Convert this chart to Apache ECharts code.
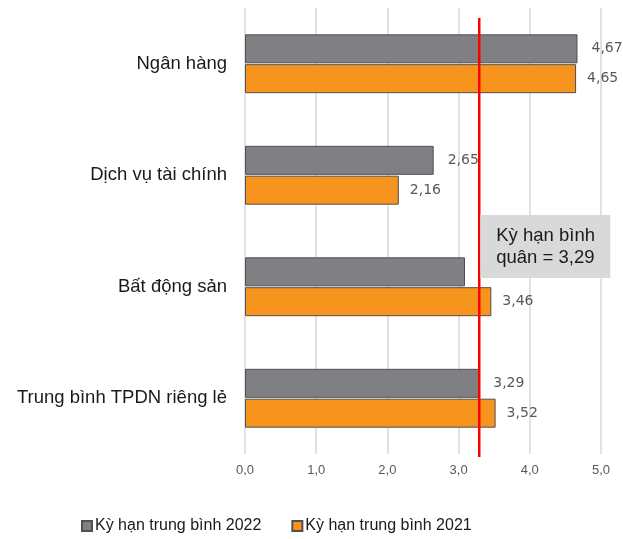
<!DOCTYPE html>
<html>
<head>
<meta charset="utf-8">
<script src="https://cdn.jsdelivr.net/npm/echarts@6/dist/echarts.min.js"></script>
<style>
  html, body { margin: 0; padding: 0; background: #fff; }
  #chart { width: 623px; height: 539px; }
</style>
</head>
<body>
<div id="chart"></div>
<script>
// Kỳ hạn trung bình theo ngành (năm)
const categories = ['Ngân hàng', 'Dịch vụ tài chính', 'Bất động sản', 'Trung bình TPDN riêng lẻ'];
const values2022 = [4.67, 2.65, 3.09, 3.29];
const values2021 = [4.65, 2.16, 3.46, 3.52];
const averageTerm = 3.29;
const seriesNames = ['Kỳ hạn trung bình 2022', 'Kỳ hạn trung bình 2021'];
const noteLines = ['Kỳ hạn bình', 'quân = 3,29'];

const fmt = v => v.toFixed(2).replace('.', ',');
const fmtAxis = v => v.toFixed(1).replace('.', ',');

const chart = echarts.init(document.getElementById('chart'));

const labelStyle = dist => ({
  show: true,
  position: 'right',
  distance: dist,
  color: '#595959',
  fontSize: 14,
  fontFamily: 'DejaVu Sans, Verdana, sans-serif',
  formatter: p => fmt(p.value)
});

chart.setOption({
  animation: false,
  grid: { left: 245, right: 22, top: 8, bottom: 85 },
  legend: {
    bottom: 0,
    left: 76,
    itemGap: 30,
    itemWidth: 10,
    itemHeight: 10,
    icon: 'rect',
    textStyle: { fontSize: 16, color: '#1a1a1a', fontFamily: 'Liberation Sans, Arial, sans-serif', padding: [0, 0, 0, -2] },
    data: seriesNames
  },
  xAxis: {
    type: 'value',
    min: 0,
    max: 5,
    interval: 1,
    axisLine: { show: false },
    axisTick: { show: false },
    splitLine: { show: true, lineStyle: { color: '#d9d9d9', width: 1.5 } },
    axisLabel: {
      color: '#595959',
      fontSize: 13,
      margin: 10,
      fontFamily: 'Liberation Sans, Arial, sans-serif',
      formatter: fmtAxis
    }
  },
  yAxis: {
    type: 'category',
    inverse: true,
    data: categories,
    axisLine: { show: false },
    axisTick: { show: false },
    axisLabel: {
      color: '#1a1a1a',
      fontSize: 18.5,
      margin: 18,
      fontFamily: 'Liberation Sans, Arial, sans-serif'
    }
  },
  series: [
    {
      name: seriesNames[0],
      type: 'bar',
      data: values2022,
      barWidth: 29,
      barGap: '3%',
      itemStyle: { color: '#7f8083', borderColor: '#505050', borderWidth: 1 },
      label: labelStyle(14)
    },
    {
      name: seriesNames[1],
      type: 'bar',
      data: values2021,
      barWidth: 29,
      barGap: '3%',
      itemStyle: { color: '#f7941d', borderColor: '#505050', borderWidth: 1 },
      label: labelStyle(11)
    }
  ]
});

// Average-term reference line and its note box
const lineX = chart.convertToPixel({ xAxisIndex: 0 }, averageTerm);
const gridTop = 8;
const gridBottom = 539 - 85;
chart.setOption({
  graphic: [
    {
      type: 'line',
      z: 100,
      shape: { x1: lineX, y1: gridTop + 10, x2: lineX, y2: gridBottom + 3 },
      style: { stroke: '#ff0000', lineWidth: 2.5 }
    },
    {
      type: 'rect',
      z: 101,
      shape: { x: lineX + 1, y: 215, width: 130, height: 63 },
      style: { fill: '#d9d9d9' }
    },
    {
      type: 'text',
      z: 102,
      x: lineX + 17,
      y: 225,
      style: {
        text: noteLines.join('\n'),
        fill: '#1a1a1a',
        fontSize: 18.5,
        lineHeight: 22,
        fontFamily: 'Liberation Sans, Arial, sans-serif'
      }
    }
  ]
});
</script>
</body>
</html>
